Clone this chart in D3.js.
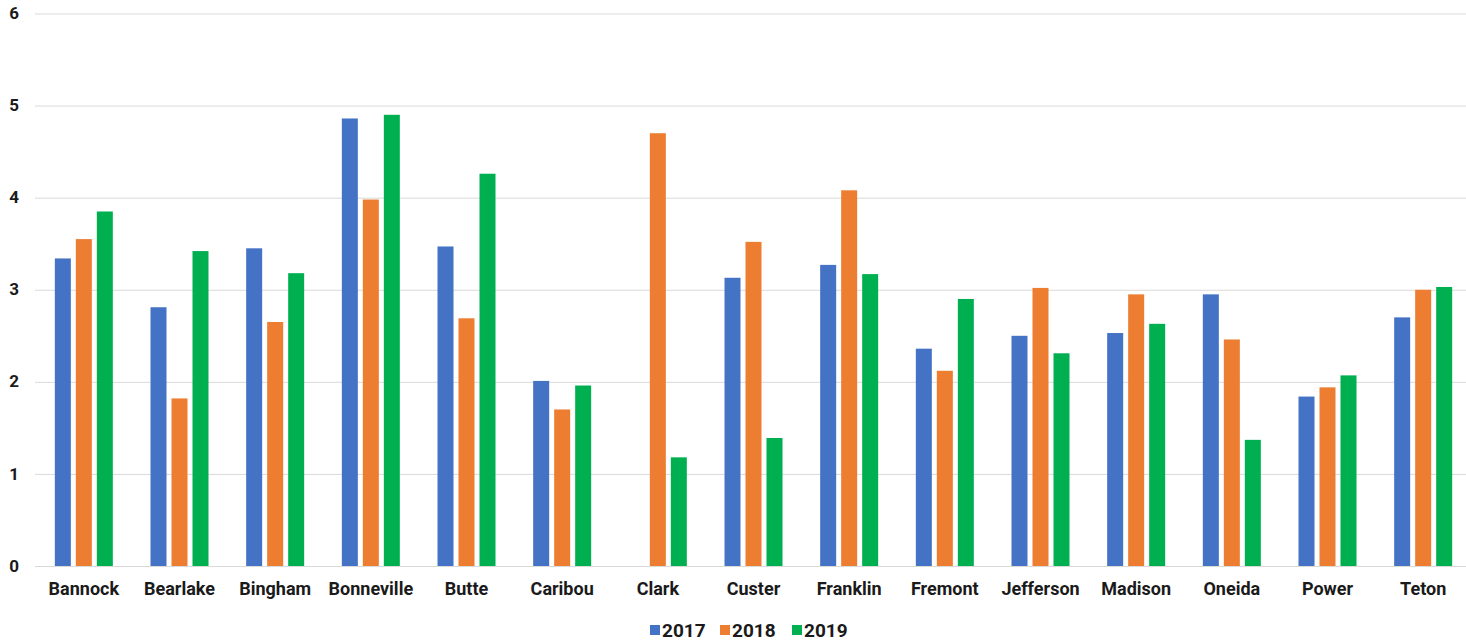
<!DOCTYPE html>
<html>
<head>
<meta charset="utf-8">
<script src="https://cdn.jsdelivr.net/npm/d3@7"></script>
<style>
  html, body { margin: 0; padding: 0; background: #fff; }
  svg { display: block; }
  text { font-family: Roboto, "Liberation Sans", Arial, sans-serif; }
</style>
</head>
<body>
<svg id="chart" width="1466" height="641"></svg>
<script>
const categories = ["Bannock","Bearlake","Bingham","Bonneville","Butte","Caribou","Clark","Custer","Franklin","Fremont","Jefferson","Madison","Oneida","Power","Teton"];
const years = ["2017","2018","2019"];
const values2017 = [3.34,2.81,3.45,4.86,3.47,2.01,0,3.13,3.27,2.36,2.50,2.53,2.95,1.84,2.70];
const values2018 = [3.55,1.82,2.65,3.98,2.69,1.70,4.70,3.52,4.08,2.12,3.02,2.95,2.46,1.94,3.00];
const values2019 = [3.85,3.42,3.18,4.90,4.26,1.96,1.18,1.39,3.17,2.90,2.31,2.63,1.37,2.07,3.03];
const yTicks = [0,1,2,3,4,5,6];
const colors = ["#4472C4","#ED7D31","#00B050"];

const series = [values2017, values2018, values2019];
const svg = d3.select("#chart");

const x0 = d3.scaleBand().domain(categories).range([36, 1471]).padding(0);
const bw = x0.bandwidth();
const x1 = d3.scaleBand().domain(years).range([bw/2 - 29, bw/2 + 29]).paddingInner(5/21).paddingOuter(0);
const y = d3.scaleLinear().domain([0, 6]).range([566, 13.5]);

// gridlines
const yAxis = d3.axisLeft(y).tickValues(yTicks).tickSize(-(1466 - 35)).tickFormat(d3.format("d")).tickPadding(14);
const gy = svg.append("g").attr("transform", "translate(35,0)").call(yAxis);
gy.select(".domain").remove();
gy.selectAll(".tick line").attr("stroke", "#d9d9d9").attr("stroke-width", 1);
gy.selectAll(".tick text").attr("fill", "#1a1a1a").attr("font-size", 17).attr("font-weight", "bold").attr("text-anchor", "middle").attr("x", -21).attr("dy", "0.3em");

// bars
const rows = categories.map((c, i) => ({cat: c, vals: years.map((yr, j) => ({yr, v: series[j][i], j}))}));
const groups = svg.append("g").selectAll("g").data(rows).join("g")
  .attr("transform", d => `translate(${x0(d.cat)},0)`);
groups.selectAll("rect").data(d => d.vals.filter(v => v.v > 0)).join("rect")
  .attr("x", d => x1(d.yr))
  .attr("width", x1.bandwidth())
  .attr("y", d => y(d.v))
  .attr("height", d => y(0) - y(d.v))
  .attr("fill", d => colors[d.j]);

// x axis labels
const xAxis = d3.axisBottom(x0).tickSize(0).tickPadding(16);
const gx = svg.append("g").attr("transform", "translate(0,566)").call(xAxis);
gx.select(".domain").remove();
gx.selectAll(".tick text").attr("fill", "#1a1a1a").attr("font-size", 18).attr("font-weight", "bold");

// legend
const legendItems = [{label: "2017", x: 650}, {label: "2018", x: 720}, {label: "2019", x: 792}];
const lg = svg.append("g");
legendItems.forEach((it, i) => {
  lg.append("rect").attr("x", it.x).attr("y", 625).attr("width", 10).attr("height", 10).attr("fill", colors[i]);
  lg.append("text").attr("x", it.x + 12).attr("y", 637).attr("fill", "#1a1a1a")
    .attr("font-size", 19).attr("font-weight", "bold").text(it.label);
});
</script>
</body>
</html>
